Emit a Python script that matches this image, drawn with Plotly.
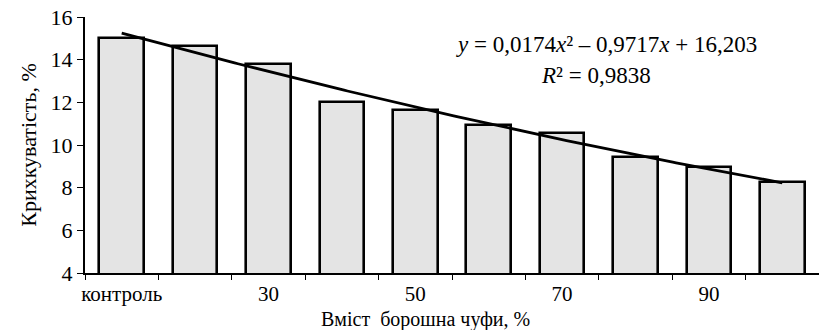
import numpy as np
import plotly.graph_objects as go

# Flour content groups and brittleness values
categories = ["контроль", "20", "30", "40", "50", "60", "70", "80", "90", "100"]
brittleness = [15.0, 14.65, 13.8, 12.0, 11.65, 10.95, 10.55, 9.45, 8.95, 8.25]

# Polynomial trend coefficients (y = a x^2 + b x + c), x = group number
trend_a, trend_b, trend_c = 0.0174, -0.9717, 16.203
r_squared = "0,9838"

# Labels shown under every other group
label_positions = [1, 3, 5, 7, 9]
label_texts = [categories[i - 1] for i in label_positions]

y_ticks = [4, 6, 8, 10, 12, 14, 16]

serif = "Liberation Serif"
x_pos = np.arange(1, len(categories) + 1)


def comma(v):
    return str(v).replace(".", ",")


fig = go.Figure()
fig.add_trace(go.Bar(
    x=x_pos, y=brittleness, base=0,
    width=0.61,
    marker=dict(color="#e4e4e4", line=dict(color="black", width=2.6)),
    showlegend=False, hoverinfo="x+y",
))

trend_x = np.linspace(1, len(categories), 200)
trend_y = trend_a * trend_x ** 2 + trend_b * trend_x + trend_c
fig.add_trace(go.Scatter(
    x=trend_x, y=trend_y, mode="lines", xaxis="x2",
    line=dict(color="black", width=2.8),
    showlegend=False, hoverinfo="skip",
))

x_range = [0.5, len(categories) + 0.5]

fig.update_layout(
    width=819, height=330,
    margin=dict(l=85, r=0, t=17, b=57),
    paper_bgcolor="white", plot_bgcolor="white",
    font=dict(family=serif, color="black", size=22),
    bargap=0,
    xaxis=dict(
        range=x_range,
        tickmode="array",
        tickvals=[i + 0.5 for i in range(len(categories) + 1)],
        ticktext=[""] * (len(categories) + 1),
        ticks="outside", ticklen=5, tickwidth=1, tickcolor="black",
        showline=True, linecolor="black", linewidth=2,
        showgrid=False, zeroline=False,
    ),
    xaxis2=dict(
        range=x_range, overlaying="x", anchor="y", side="bottom",
        tickmode="array", tickvals=label_positions, ticktext=label_texts,
        ticks="", ticklabelstandoff=6,
        showline=False, showgrid=False, zeroline=False,
        tickfont=dict(family=serif, size=21),
    ),
    yaxis=dict(
        range=[4, 16],
        tickmode="array", tickvals=y_ticks,
        ticks="outside", ticklen=6, tickwidth=1, tickcolor="black",
        showline=True, linecolor="black", linewidth=2,
        showgrid=False, zeroline=False,
        tickfont=dict(family=serif, size=22),
        title=dict(text="Крихкуватість, %", font=dict(family=serif, size=22), standoff=8),
    ),
    annotations=[
        dict(
            text="Вміст\u00a0\u00a0борошна чуфи, %",
            xref="paper", yref="paper", x=(425 - 85) / 734, y=-0.18,
            xanchor="center", yanchor="middle", showarrow=False,
            font=dict(family=serif, size=20),
        ),
        dict(
            text=f"<i>y</i> = {comma(trend_a)}<i>x</i>² – "
                 f"{comma(-trend_b)}<i>x</i> + {comma(trend_c)}",
            xref="x", yref="y", x=7.6, y=14.69,
            xanchor="center", yanchor="middle", showarrow=False,
            font=dict(family=serif, size=23),
        ),
        dict(
            text=f"<i>R</i>² = {r_squared}",
            xref="x", yref="y", x=7.46, y=13.28,
            xanchor="center", yanchor="middle", showarrow=False,
            font=dict(family=serif, size=23),
        ),
    ],
)

fig.write_html("out.html")
